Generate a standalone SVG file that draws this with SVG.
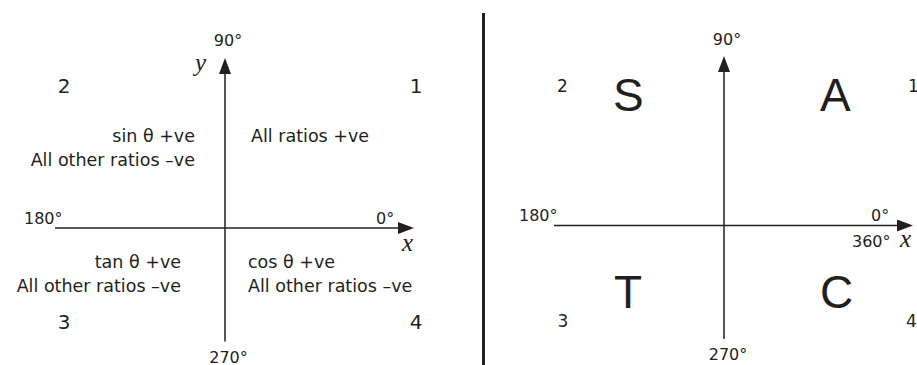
<svg xmlns="http://www.w3.org/2000/svg" width="917" height="365" viewBox="0 0 917 365">
<style>
.t{font-family:"DejaVu Sans","Liberation Sans",sans-serif;font-size:17.5px;fill:#231f20}
.d{font-family:"DejaVu Sans","Liberation Sans",sans-serif;font-size:16px;fill:#231f20}
.n{font-family:"DejaVu Sans","Liberation Sans",sans-serif;font-size:20px;fill:#231f20}
.ns{font-family:"DejaVu Sans","Liberation Sans",sans-serif;font-size:17px;fill:#231f20}
.big{font-family:"Liberation Sans",Arial,sans-serif;font-size:46px;fill:#231f20}
.v{font-family:"Liberation Serif","Times New Roman",serif;font-style:italic;font-size:25px;fill:#231f20}
.ax{stroke:#231f20;stroke-width:1.5;fill:none}
.e{text-anchor:end}
.m{text-anchor:middle}
</style>
<defs>
<marker id="ah" markerUnits="userSpaceOnUse" viewBox="0 0 16 12" markerWidth="16" markerHeight="12" refX="1" refY="6" orient="auto">
<path d="M0,0 L16,6 L0,12 z" fill="#231f20"/>
</marker>
</defs>
<g id="connectors">
<line class="ax" x1="225" y1="341.5" x2="225" y2="73" marker-end="url(#ah)"/>
<line class="ax" x1="55" y1="228" x2="399" y2="228" marker-end="url(#ah)"/>
<line class="ax" x1="724" y1="339" x2="724" y2="71" marker-end="url(#ah)"/>
<line class="ax" x1="554" y1="225.5" x2="898" y2="225.5" marker-end="url(#ah)"/>
<line x1="483.5" y1="13" x2="483.5" y2="365" stroke="#231f20" stroke-width="3"/>
</g>
<g id="left-labels">
<text class="d m" x="228" y="45.5">90°</text>
<text class="v" x="195" y="71">y</text>
<text class="n m" x="64" y="93">2</text>
<text class="n m" x="416" y="93">1</text>
<text class="t e" x="195" y="141.5">sin θ +ve</text>
<text class="t e" x="195" y="166">All other ratios –ve</text>
<text class="t" x="251" y="141.5">All ratios +ve</text>
<text class="d" x="24" y="224">180°</text>
<text class="d" x="376" y="224">0°</text>
<text class="v" x="402" y="251">x</text>
<text class="t e" x="181" y="268">tan θ +ve</text>
<text class="t e" x="181" y="292">All other ratios –ve</text>
<text class="t" x="248" y="268">cos θ +ve</text>
<text class="t" x="248" y="292">All other ratios –ve</text>
<text class="n m" x="64" y="328.5">3</text>
<text class="n m" x="416" y="328.5">4</text>
<text class="d m" x="228.5" y="362.5">270°</text>
</g>
<g id="right-labels">
<text class="d m" x="727" y="44.5">90°</text>
<text class="ns m" x="562.5" y="92">2</text>
<text class="ns" x="908" y="92">1</text>
<text class="big" x="613" y="111">S</text>
<text class="big" x="820" y="111">A</text>
<text class="d" x="519" y="221">180°</text>
<text class="d" x="871" y="221">0°</text>
<text class="d" x="852" y="247">360°</text>
<text class="v" x="900" y="247">x</text>
<text class="big" x="614" y="308">T</text>
<text class="big" x="820" y="308">C</text>
<text class="ns m" x="563" y="327">3</text>
<text class="ns" x="906" y="327">4</text>
<text class="d m" x="728" y="360">270°</text>
</g>
</svg>
